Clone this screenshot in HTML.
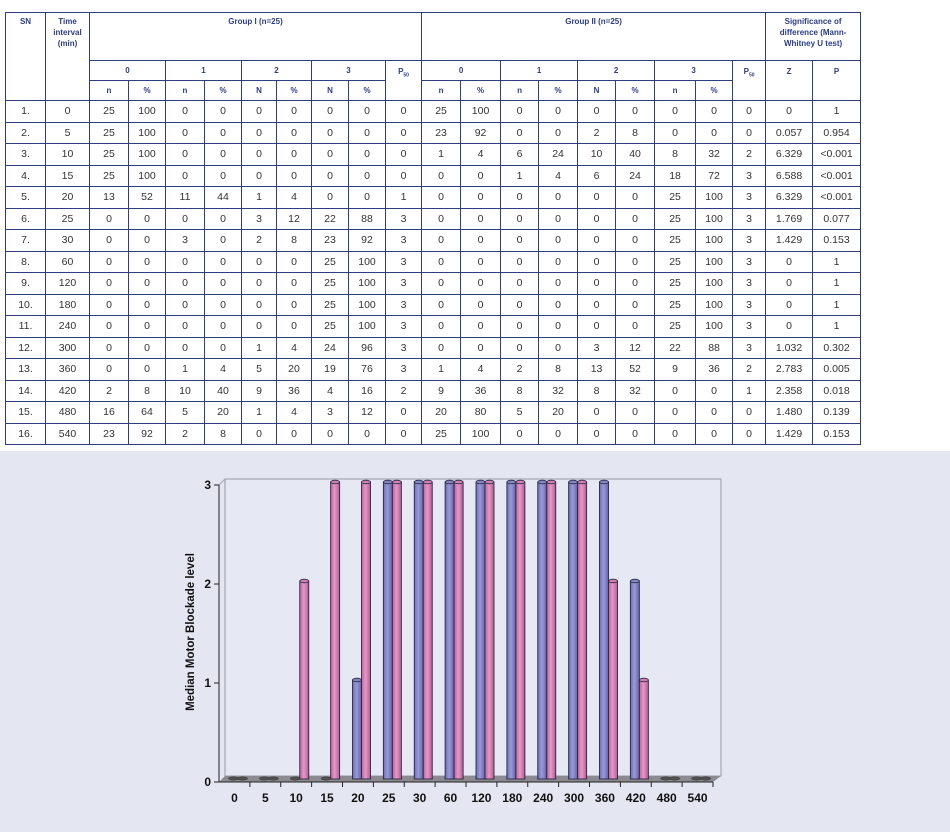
<!DOCTYPE html>
<html><head><meta charset="utf-8"><style>
body{margin:0;width:950px;height:832px;position:relative;background:#fff;font-family:"Liberation Sans",sans-serif;overflow:hidden}
table{position:absolute;left:5px;top:12px;border-collapse:collapse;table-layout:fixed;width:855px}
td{border:1px solid #2c3f7c;text-align:center;padding:0;font-size:10.5px;color:#333;height:20.5px;line-height:12px}
tr.h td{color:#2b3d88;font-weight:bold;font-size:8px;vertical-align:middle}
tr.h1 td{height:44px;vertical-align:top;padding-top:3px;line-height:11px}
tr.h2 td,tr.h3 td{height:19px}
svg{position:absolute;left:0;top:0}
sub{font-size:5px}
</style></head><body>
<svg width="950" height="832">
<defs>
<linearGradient id="b" x1="0" x2="1"><stop offset="0" stop-color="#6d6dba"/><stop offset=".45" stop-color="#9a9ad8"/><stop offset="1" stop-color="#6262ac"/></linearGradient>
<linearGradient id="p" x1="0" x2="1"><stop offset="0" stop-color="#c0609c"/><stop offset=".45" stop-color="#e39ac6"/><stop offset="1" stop-color="#b85896"/></linearGradient>
</defs>
<rect x="0" y="451" width="950" height="381" fill="#e4e6f2"/>
<rect x="225" y="479" width="496" height="297" fill="#e6e8f4" stroke="#a4a6b0" stroke-width="1.2"/>
<polygon points="219,782 713,782 721,776 225,776" fill="#8a8a90"/>
<line x1="219" y1="485" x2="225" y2="479" stroke="#a4a6b0"/>
<g id="bars"></g>
<line x1="219" y1="485" x2="219" y2="782" stroke="#222"/>
<line x1="219" y1="782" x2="713" y2="782" stroke="#222"/>
<g stroke="#222"><line x1="214" y1="485" x2="219" y2="485"/><line x1="214" y1="584" x2="219" y2="584"/><line x1="214" y1="683" x2="219" y2="683"/><line x1="214" y1="782" x2="219" y2="782"/></g>
<g font-weight="bold" font-size="12" text-anchor="end" fill="#111"><text x="211" y="489">3</text><text x="211" y="588">2</text><text x="211" y="687">1</text><text x="211" y="786">0</text></g>
<text transform="translate(194,632) rotate(-90)" text-anchor="middle" font-weight="bold" font-size="11.5" fill="#111">Median Motor Blockade level</text>
<g id="xt"></g>
</svg>
<table>
<colgroup><col style="width:40px"><col style="width:44px"><col style="width:39px"><col style="width:37px"><col style="width:39px"><col style="width:37px"><col style="width:35px"><col style="width:35px"><col style="width:37px"><col style="width:37px"><col style="width:36px"><col style="width:39px"><col style="width:40px"><col style="width:38px"><col style="width:39px"><col style="width:38px"><col style="width:39px"><col style="width:41px"><col style="width:37px"><col style="width:33px"><col style="width:47px"><col style="width:48px"></colgroup>
<tr class="h h1"><td rowspan="3">SN</td><td rowspan="3">Time interval (min)</td><td colspan="9">Group I (n=25)</td><td colspan="9">Group II (n=25)</td><td colspan="2">Significance of difference (Mann-Whitney U test)</td></tr>
<tr class="h h2"><td colspan="2">0</td><td colspan="2">1</td><td colspan="2">2</td><td colspan="2">3</td><td rowspan="2" style="vertical-align:top;padding-top:5px">P<sub>50</sub></td><td colspan="2">0</td><td colspan="2">1</td><td colspan="2">2</td><td colspan="2">3</td><td rowspan="2" style="vertical-align:top;padding-top:5px">P<sub>50</sub></td><td rowspan="2" style="vertical-align:top;padding-top:5px">Z</td><td rowspan="2" style="vertical-align:top;padding-top:5px">P</td></tr>
<tr class="h h3"><td>n</td><td>%</td><td>n</td><td>%</td><td>N</td><td>%</td><td>N</td><td>%</td><td>n</td><td>%</td><td>n</td><td>%</td><td>N</td><td>%</td><td>n</td><td>%</td></tr>
<tbody id="tb"></tbody>
</table>
<script>
var d=[
"1.|0|25|100|0|0|0|0|0|0|0|25|100|0|0|0|0|0|0|0|0|1",
"2.|5|25|100|0|0|0|0|0|0|0|23|92|0|0|2|8|0|0|0|0.057|0.954",
"3.|10|25|100|0|0|0|0|0|0|0|1|4|6|24|10|40|8|32|2|6.329|&lt;0.001",
"4.|15|25|100|0|0|0|0|0|0|0|0|0|1|4|6|24|18|72|3|6.588|&lt;0.001",
"5.|20|13|52|11|44|1|4|0|0|1|0|0|0|0|0|0|25|100|3|6.329|&lt;0.001",
"6.|25|0|0|0|0|3|12|22|88|3|0|0|0|0|0|0|25|100|3|1.769|0.077",
"7.|30|0|0|3|0|2|8|23|92|3|0|0|0|0|0|0|25|100|3|1.429|0.153",
"8.|60|0|0|0|0|0|0|25|100|3|0|0|0|0|0|0|25|100|3|0|1",
"9.|120|0|0|0|0|0|0|25|100|3|0|0|0|0|0|0|25|100|3|0|1",
"10.|180|0|0|0|0|0|0|25|100|3|0|0|0|0|0|0|25|100|3|0|1",
"11.|240|0|0|0|0|0|0|25|100|3|0|0|0|0|0|0|25|100|3|0|1",
"12.|300|0|0|0|0|1|4|24|96|3|0|0|0|0|3|12|22|88|3|1.032|0.302",
"13.|360|0|0|1|4|5|20|19|76|3|1|4|2|8|13|52|9|36|2|2.783|0.005",
"14.|420|2|8|10|40|9|36|4|16|2|9|36|8|32|8|32|0|0|1|2.358|0.018",
"15.|480|16|64|5|20|1|4|3|12|0|20|80|5|20|0|0|0|0|0|1.480|0.139",
"16.|540|23|92|2|8|0|0|0|0|0|25|100|0|0|0|0|0|0|0|1.429|0.153"];
var h="";d.forEach(function(r){h+="<tr><td>"+r.split("|").join("</td><td>")+"</td></tr>"});
document.getElementById("tb").innerHTML=h;
var g1=[0,0,0,0,1,3,3,3,3,3,3,3,3,2,0,0],g2=[0,0,2,3,3,3,3,3,3,3,3,3,2,1,0,0];
var lab=[0,5,10,15,20,25,30,60,120,180,240,300,360,420,480,540];
var s="",t="",w=494/16;
function bar(x,v,f){if(v==0)return '<ellipse cx="'+(x+4.5)+'" cy="778.5" rx="5" ry="1.6" fill="#555" stroke="#333" stroke-width=".6"/>';
var y=779-v*99;return '<rect x="'+x+'" y="'+y+'" width="9" height="'+(779-y)+'" fill="url(#'+f+')" stroke="#2a2a40" stroke-width=".9"/><ellipse cx="'+(x+4.5)+'" cy="'+y+'" rx="4.5" ry="1.8" fill="'+(f=="b"?"#8484c8":"#d27eb4")+'" stroke="#2a2a40" stroke-width=".8"/>';}
for(var i=0;i<16;i++){var L=219+i*w;s+=bar(L+10,g1[i],"b")+bar(L+19,g2[i],"p");
t+='<line x1="'+(L+w)+'" y1="782" x2="'+(L+w)+'" y2="787" stroke="#222"/><text x="'+(L+w/2)+'" y="802" text-anchor="middle" font-weight="bold" font-size="12" fill="#111">'+lab[i]+'</text>';}
document.getElementById("bars").innerHTML=s;document.getElementById("xt").innerHTML=t;
</script>
</body></html>
